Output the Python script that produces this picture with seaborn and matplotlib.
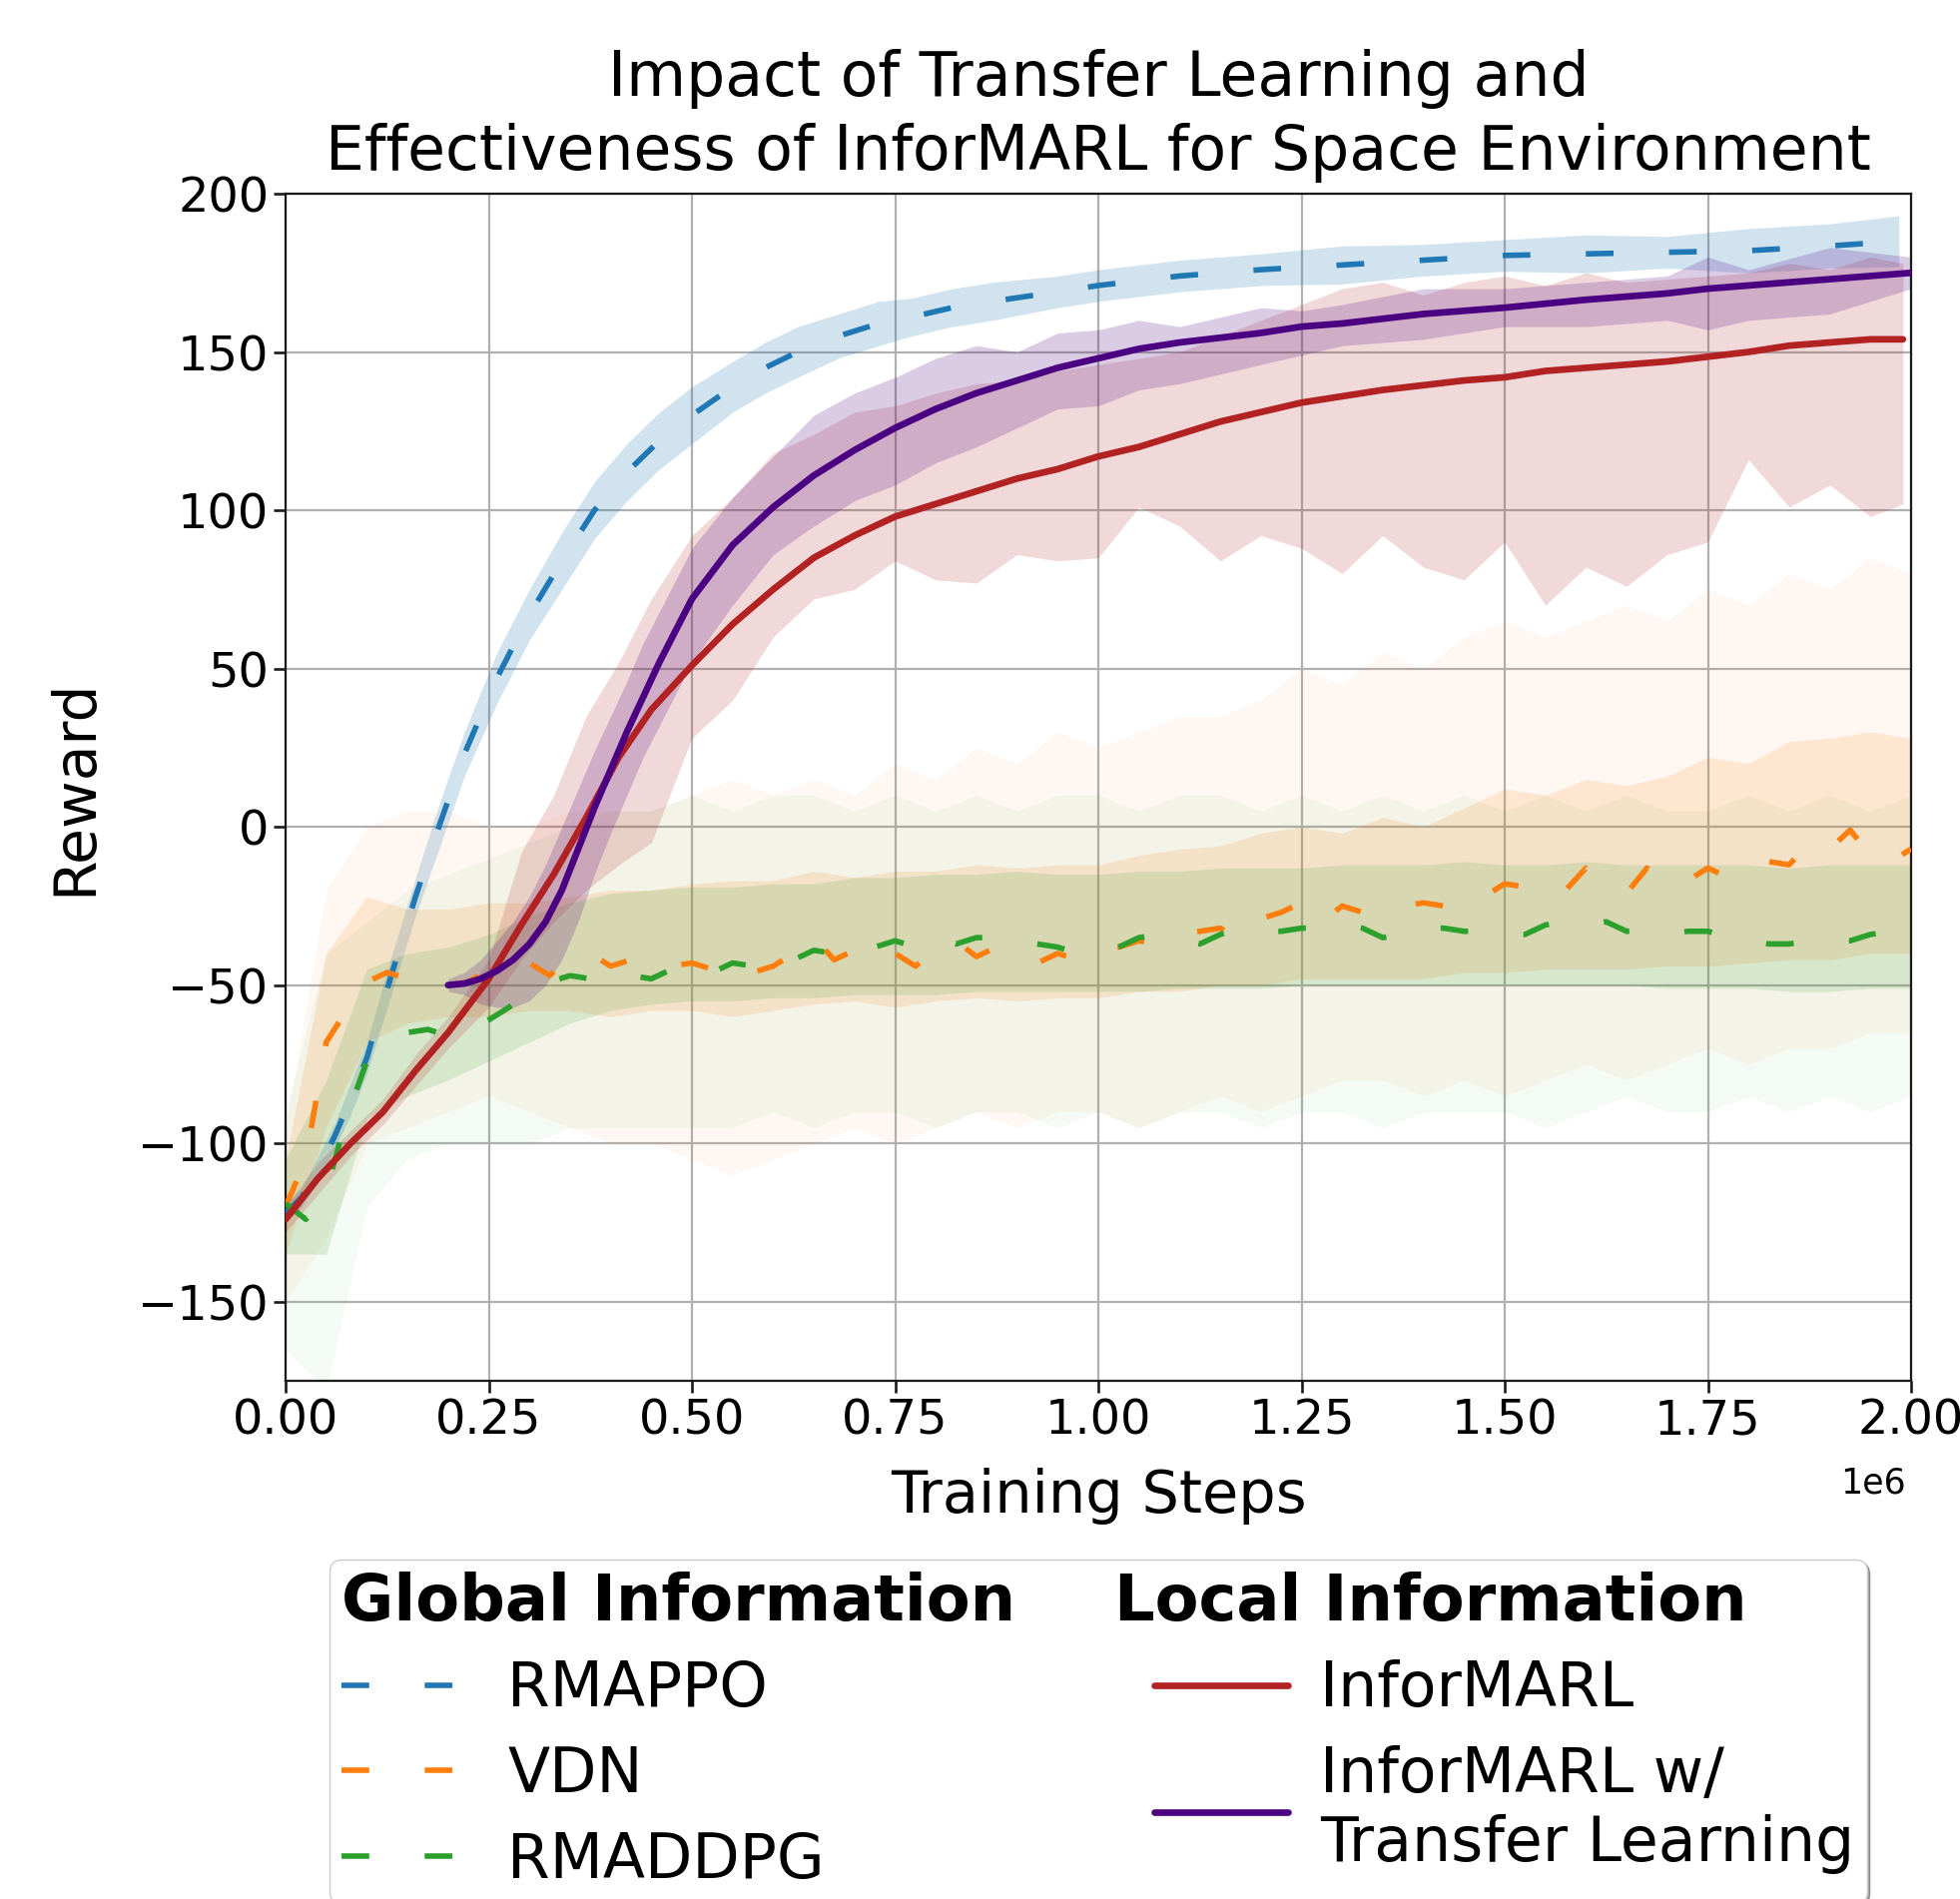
import numpy as np
import pandas as pd
import matplotlib
matplotlib.use("Agg")
import matplotlib.pyplot as plt
from matplotlib.lines import Line2D
import seaborn as sns

# ---------------- data (training steps in millions) ----------------
x_rmappo = [0.00, 0.02, 0.04, 0.06, 0.08, 0.10, 0.13, 0.16, 0.19, 0.22, 0.26, 0.30, 0.34, 0.38, 0.42,
            0.46, 0.50, 0.55, 0.59, 0.63, 0.68, 0.73, 0.77, 0.82, 0.87, 0.95, 1.00, 1.10, 1.20, 1.30,
            1.40, 1.50, 1.60, 1.70, 1.80, 1.90, 1.985]
rmappo = [-122, -117, -108, -98, -86, -73, -47, -22, 1, 23, 47, 67, 84, 100, 112,
          122, 130, 139, 145, 150, 155, 159, 161, 164, 166, 169, 171, 174, 176, 177.5,
          179, 180.5, 181, 181.5, 182, 183.5, 185]
rmappo_err = [3, 3, 4, 4, 5, 5, 6, 6, 7, 7, 8, 8, 9, 9, 9,
              9, 9, 8, 8, 8, 7, 7, 6, 6, 6, 5, 5, 5, 5, 6,
              5, 5, 6, 5, 7, 7, 8]

x_inf = [0.00, 0.04, 0.08, 0.12, 0.16, 0.20, 0.25, 0.29, 0.33, 0.37, 0.41, 0.45, 0.50, 0.55, 0.60,
         0.65, 0.70, 0.75, 0.80, 0.85, 0.90, 0.95, 1.00, 1.05, 1.10, 1.15, 1.20, 1.25, 1.30, 1.35,
         1.40, 1.45, 1.50, 1.55, 1.60, 1.65, 1.70, 1.75, 1.80, 1.85, 1.90, 1.95, 1.99]
inf_mean = [-124, -111, -100, -90, -77, -65, -48, -31, -15, 3, 22, 37, 51, 64, 75,
            85, 92, 98, 102, 106, 110, 113, 117, 120, 124, 128, 131, 134, 136, 138,
            139.5, 141, 142, 144, 145, 146, 147, 148.5, 150, 152, 153, 154, 154]
inf_lo = [-128, -116, -104, -94, -82, -70, -57, -42, -30, -20, -12, -5, 28, 40, 60,
          72, 75, 84, 78, 77, 86, 84, 85, 101, 95, 84, 92, 88, 80, 92,
          82, 78, 90, 70, 82, 76, 86, 90, 116, 101, 108, 98, 102]
inf_hi = [-120, -106, -96, -86, -72, -60, -42, -8, 10, 35, 52, 72, 92, 104, 118,
          124, 131, 133, 137, 140, 141, 144, 146, 148, 150, 155, 160, 165, 170, 172,
          168, 172, 174, 171, 175, 172, 173, 174, 175, 178, 176, 180, 178]

x_tl = [0.20, 0.22, 0.24, 0.26, 0.28, 0.30, 0.32, 0.34, 0.36, 0.38,
        0.40, 0.42, 0.44, 0.46, 0.48, 0.50, 0.55, 0.60, 0.65, 0.70,
        0.75, 0.80, 0.85, 0.90, 0.95, 1.00, 1.05, 1.10, 1.20, 1.25,
        1.30, 1.40, 1.50, 1.60, 1.70, 1.75, 1.80, 1.90, 2.00]
tl_mean = [-50, -49.5, -48, -45.5, -42, -37, -30, -20, -7, 6,
           18, 30, 41, 52, 62, 72, 89, 101, 111, 119,
           126, 132, 137, 141, 145, 148, 151, 153, 156, 158,
           159, 162, 164, 166.5, 168.5, 170, 171, 173, 175]
tl_lo = [-52, -53, -56, -57, -57, -55, -50, -42, -30, -15,
         -2, 10, 22, 32, 42, 52, 70, 86, 95, 103,
         108, 115, 120, 126, 132, 133, 138, 140, 146, 149,
         152, 154, 158, 158, 160, 157, 160, 162, 170]
tl_hi = [-48, -46, -42, -36, -30, -22, -12, 0, 12, 24,
         35, 46, 58, 68, 78, 88, 104, 117, 130, 137,
         142, 148, 152, 150, 156, 157, 160, 158, 164, 163,
         165, 170, 170, 172, 174, 180, 176, 183, 180]

# VDN / RMADDPG means every 0.025M steps
x_glob = np.linspace(0.0, 2.0, 81)
vdn = [-120, -105, -68, -58, -49, -46, -48, -48, -50, -49,
       -45, -44, -43, -47, -41, -40, -44, -42, -43, -44,
       -43, -45, -42, -46, -44, -40, -35, -42, -39, -43,
       -40, -44, -39, -36, -41, -38, -40, -43, -40, -42,
       -38, -38, -36, -37, -34, -33, -32, -36, -29, -27,
       -24, -30, -25, -27, -26, -25, -24, -25, -26, -22,
       -18, -19, -16, -20, -13, -19, -21, -13, -19, -17,
       -13, -16, -15, -11, -12, -5, -7, -1, -9, -11,
       -7]
rmaddpg = [-119, -124, -115, -92, -74, -67, -65, -64, -66, -64,
           -61, -57, -52, -49, -47, -48, -49, -47, -48, -45,
           -44, -46, -43, -44, -41, -42, -39, -40, -37, -38,
           -36, -38, -35, -37, -35, -35, -36, -37, -38, -40,
           -39, -38, -35, -34, -36, -37, -34, -32, -33, -33,
           -32, -32, -31, -32, -35, -34, -32, -32, -33, -33,
           -34, -34, -31, -30, -31, -30, -33, -33, -34, -33,
           -33, -35, -36, -37, -37, -36, -36, -36, -34, -33,
           -33]

# VDN / RMADDPG spread every 0.05M steps (dense core and faint outer range)
x_band = np.linspace(0.0, 2.0, 41)
vdn_out_lo = [-150, -130, -100, -95, -90, -85, -90, -95, -100, -100,
              -105, -110, -105, -100, -95, -100, -95, -90, -95, -90,
              -90, -95, -90, -85, -90, -85, -80, -80, -85, -80,
              -85, -80, -75, -80, -75, -70, -75, -70, -70, -65, -65]
vdn_out_hi = [-95, -20, 0, 5, 5, 0, 0, 5, 5, 5,
              10, 15, 10, 15, 10, 20, 15, 25, 20, 30,
              25, 30, 35, 35, 40, 50, 45, 55, 50, 60,
              65, 60, 65, 70, 65, 75, 70, 80, 75, 85, 80]
vdn_core_lo = [-135, -95, -68, -62, -60, -60, -58, -58, -60, -58,
               -58, -60, -58, -56, -55, -57, -55, -54, -55, -54,
               -54, -52, -52, -50, -50, -48, -48, -48, -48, -46,
               -46, -45, -45, -45, -44, -44, -43, -42, -42, -40, -40]
vdn_core_hi = [-105, -40, -22, -26, -26, -24, -24, -22, -20, -20,
               -18, -17, -17, -14, -16, -14, -14, -12, -13, -12,
               -12, -9, -7, -6, -2, 0, -2, 3, 0, 6,
               12, 10, 15, 13, 16, 22, 20, 27, 28, 30, 28]
ddpg_out_lo = [-165, -178, -120, -105, -100, -100, -100, -95, -95, -95,
               -95, -95, -90, -95, -90, -90, -95, -90, -90, -95,
               -90, -95, -90, -90, -95, -90, -90, -95, -90, -90,
               -90, -95, -90, -85, -90, -90, -85, -90, -85, -90, -85]
ddpg_out_hi = [-90, -40, -30, -20, -15, -10, -5, 0, 5, 5,
               10, 5, 10, 10, 5, 10, 5, 10, 5, 10,
               10, 5, 10, 10, 5, 10, 5, 10, 5, 10,
               5, 10, 5, 10, 5, 5, 10, 5, 10, 5, 10]
ddpg_core_lo = [-135, -135, -92, -85, -80, -74, -68, -62, -58, -56,
                -55, -55, -54, -54, -53, -53, -53, -52, -52, -52,
                -52, -52, -51, -51, -51, -50, -50, -50, -50, -50,
                -50, -50, -50, -50, -51, -51, -51, -52, -52, -51, -51]
ddpg_core_hi = [-105, -80, -45, -40, -38, -34, -28, -24, -21, -20,
                -19, -19, -18, -18, -16, -16, -15, -15, -14, -15,
                -15, -14, -14, -13, -13, -13, -12, -12, -12, -11,
                -12, -12, -11, -12, -12, -12, -12, -13, -12, -12, -12]

labels_global = ["RMAPPO", "VDN", "RMADDPG"]
labels_local = ["InforMARL", "InforMARL w/\nTransfer Learning"]
header_global = "Global Information"
header_local = "Local Information"

C_BLUE, C_ORANGE, C_GREEN = "#1f77b4", "#ff7f0e", "#2ca02c"
C_RED, C_PURPLE = "firebrick", "indigo"

# ---------------- style ----------------
sns.set_style("ticks")
plt.rcParams.update({
    "font.family": ["DejaVu Sans"],
    "text.color": "black",
    "axes.labelcolor": "black",
    "axes.edgecolor": "#1a1a1a",
    "axes.linewidth": 1.6,
    "xtick.major.size": 8.6, "ytick.major.size": 8.6,
    "xtick.major.width": 1.9, "ytick.major.width": 1.9,
    "xtick.color": "#1a1a1a", "ytick.color": "#1a1a1a",
    "xtick.labelcolor": "black", "ytick.labelcolor": "black",
})

fig = plt.figure(figsize=(19.63, 19.02), dpi=100)
ax = fig.add_axes([286 / 1963, 1 - 1383 / 1902, (1914 - 286) / 1963, (1383 - 194) / 1902])

M = 1e6
def sx(v):
    return np.asarray(v, dtype=float) * M

DASH = (0, (5, 10))
LW_D = 4.0
LW_S = 4.8

# bands
ax.fill_between(sx(x_rmappo), np.array(rmappo) - np.array(rmappo_err),
                np.array(rmappo) + np.array(rmappo_err), color=C_BLUE, alpha=0.2, lw=0)
ax.fill_between(sx(x_band), vdn_out_lo, vdn_out_hi, color=C_ORANGE, alpha=0.05, lw=0)
ax.fill_between(sx(x_band), vdn_core_lo, vdn_core_hi, color=C_ORANGE, alpha=0.14, lw=0)
ax.fill_between(sx(x_band), ddpg_out_lo, ddpg_out_hi, color=C_GREEN, alpha=0.05, lw=0)
ax.fill_between(sx(x_band), ddpg_core_lo, ddpg_core_hi, color=C_GREEN, alpha=0.14, lw=0)
ax.fill_between(sx(x_inf), inf_lo, inf_hi, color=C_RED, alpha=0.17, lw=0)
ax.fill_between(sx(x_tl), tl_lo, tl_hi, color=C_PURPLE, alpha=0.2, lw=0)

# mean lines through seaborn
df_rmappo = pd.DataFrame({"step": sx(x_rmappo), "reward": rmappo})
df_vdn = pd.DataFrame({"step": sx(x_glob), "reward": vdn})
df_ddpg = pd.DataFrame({"step": sx(x_glob), "reward": rmaddpg})
df_inf = pd.DataFrame({"step": sx(x_inf), "reward": inf_mean})
df_tl = pd.DataFrame({"step": sx(x_tl), "reward": tl_mean})

sns.lineplot(data=df_rmappo, x="step", y="reward", ax=ax, color=C_BLUE, lw=LW_D,
             linestyle=DASH, errorbar=None, zorder=3)
sns.lineplot(data=df_vdn, x="step", y="reward", ax=ax, color=C_ORANGE, lw=LW_D,
             linestyle=DASH, errorbar=None, zorder=3)
sns.lineplot(data=df_ddpg, x="step", y="reward", ax=ax, color=C_GREEN, lw=LW_D,
             linestyle=DASH, errorbar=None, zorder=3)
sns.lineplot(data=df_inf, x="step", y="reward", ax=ax, color=C_RED, lw=LW_S,
             errorbar=None, zorder=4)
sns.lineplot(data=df_tl, x="step", y="reward", ax=ax, color=C_PURPLE, lw=LW_S,
             errorbar=None, zorder=5)

ax.set_xlim(0, 2.0 * M)
ax.set_ylim(-175, 200)
ax.set_xticks(np.arange(0, 2.0 * M + 1, 0.25 * M))
ax.set_yticks(np.arange(-150, 201, 50))
ax.grid(True, color="#b0b0b0", lw=1.6)
ax.tick_params(labelsize=34.5)
ax.xaxis.get_offset_text().set_visible(False)
ax.text(0.997, -0.0866, "1e6", transform=ax.transAxes, ha="right", va="center", fontsize=25)

ax.set_title("Impact of Transfer Learning and\nEffectiveness of InforMARL for Space Environment",
             fontsize=44.4, pad=17, linespacing=1.3)
ax.set_xlabel("Training Steps", fontsize=42.5, labelpad=17)
ax.set_ylabel("Reward", fontsize=42, labelpad=25)

# ---------------- legend ----------------
blank = Line2D([], [], color="none")
handles = [blank,
           Line2D([], [], color=C_BLUE, lw=LW_D, linestyle=DASH),
           Line2D([], [], color=C_ORANGE, lw=LW_D, linestyle=DASH),
           Line2D([], [], color=C_GREEN, lw=LW_D, linestyle=DASH),
           blank,
           Line2D([], [], color=C_RED, lw=LW_S),
           Line2D([], [], color=C_PURPLE, lw=LW_S)]
labels = [header_global] + labels_global + [header_local] + labels_local

leg = ax.legend(handles, labels, ncol=2, loc="upper center", bbox_to_anchor=(0.5, -0.1505),
                borderaxespad=0, fontsize=44.4, handlelength=2.16, handletextpad=0.53,
                columnspacing=2.25, labelspacing=0.42, borderpad=0.2,
                frameon=True, fancybox=True, shadow=True, edgecolor="0.8")
texts = leg.get_texts()
for i in (0, 4):
    texts[i].set_fontweight("bold")
    texts[i].set_fontsize(46)
for col in leg._legend_handle_box.get_children():
    row0 = col.get_children()[0]
    row0.get_children()[0].set_width(0)
    row0.sep = 0
texts[4].set_position((-40, 0))

fig.savefig("out.png", dpi=100)
